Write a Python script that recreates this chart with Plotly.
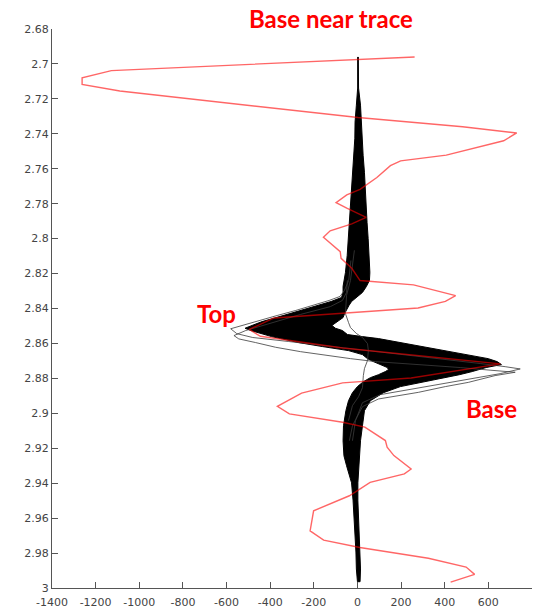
import plotly.graph_objects as go

# ---- red "Base near trace" (time/depth, amplitude) ----
red_depth = [2.6960, 2.7038, 2.7079, 2.7117, 2.7155, 2.7231, 2.7307, 2.7360, 2.7395, 2.7440,
             2.7474, 2.7522, 2.7555, 2.7582, 2.7650, 2.7718, 2.7750, 2.7794, 2.7826, 2.7878,
             2.7916, 2.7955, 2.7992, 2.8027, 2.8075, 2.8113, 2.8170, 2.8240, 2.8265, 2.8326,
             2.8359, 2.8397, 2.8426, 2.8454, 2.8520, 2.8559, 2.8626, 2.8664, 2.8717, 2.8798,
             2.8826, 2.8884, 2.8960, 2.9003, 2.9032, 2.9051, 2.9079, 2.9156, 2.9194, 2.9242,
             2.9319, 2.9347, 2.9395, 2.9472, 2.9558, 2.9673, 2.9726, 2.9768, 2.9830, 2.9880,
             2.9922, 2.9966]
red_amp = [262, -1128, -1262, -1262, -1089, -539, 3, 482, 730, 670,
           563, 407, 198, 151, 89, 12, -49, -98, -49, 40,
           -26, -125, -156, -125, -79, -75, -26, 12, 257, 450,
           403, 278, -68, -382, -496, -445, -68, 246, 655, 246,
           -68, -256, -367, -312, -162, -68, 34, 128, 136, 167,
           246, 215, 58, -37, -201, -217, -155, 11, 325, 498,
           537, 427]

# ---- dense black bundle of traces: envelope (min / max amplitude per depth) ----
env_depth = [2.6960, 2.7138, 2.7236, 2.7333, 2.7425, 2.7523, 2.7620, 2.7712, 2.7809, 2.7907,
             2.7999, 2.8096, 2.8194, 2.8239, 2.8274, 2.8308, 2.8337, 2.8360, 2.8383, 2.8406,
             2.8429, 2.8452, 2.8475, 2.8497, 2.8513, 2.8526, 2.8549, 2.8561, 2.8572, 2.8595,
             2.8618, 2.8641, 2.8664, 2.8687, 2.8704, 2.8721, 2.8738, 2.8750, 2.8761, 2.8779,
             2.8796, 2.8819, 2.8847, 2.8882, 2.8928, 2.8985, 2.9071, 2.9157, 2.9243, 2.9300,
             2.9398, 2.9501, 2.9599, 2.9696, 2.9794, 2.9891, 2.9964]
env_min = [1, 1, -5, -11, -12, -17, -21, -27, -32, -35,
           -40, -47, -55, -62, -66, -66, -73, -121, -181, -245,
           -309, -373, -437, -483, -515, -489, -430, -393, -352, -270,
           -160, -41, 23, 46, 73, 110, 137, 142, 128, 96,
           59, 27, 0, -23, -41, -53, -64, -66, -62, -50,
           -27, -20, -15, -11, -7, -5, 0]
env_max = [4, 5, 14, 17, 21, 26, 32, 37, 41, 44,
           49, 54, 57, 55, 41, 23, -5, -27, -39, -50,
           -59, -66, -91, -117, -101, -69, -46, 23, 96, 197,
           297, 398, 499, 599, 640, 660, 590, 558, 526, 467,
           398, 311, 197, 119, 59, 32, 23, 14, 9, 7,
           2, 2, 3, 7, 11, 14, 12]

# ---- individual outlier traces of the bundle ----
o1_depth = [2.8125, 2.8239, 2.8297, 2.8331, 2.8354, 2.8383, 2.8412, 2.8440, 2.8469, 2.8497,
            2.8516, 2.8544, 2.8566, 2.8589, 2.8612, 2.8635, 2.8664, 2.8693, 2.8715, 2.8733,
            2.8746, 2.8773, 2.8813, 2.8859, 2.8893, 2.8939, 2.9042, 2.9157]
o1_amp = [-30, -40, -60, -80, -130, -205, -285, -368, -452, -535,
          -581, -553, -480, -315, -150, 5, 197, 403, 563, 677,
          746, 654, 471, 242, 105, 23, -9, -23]

o2_depth = [2.8239, 2.8308, 2.8354, 2.8389, 2.8434, 2.8480, 2.8526, 2.8555, 2.8574, 2.8595,
            2.8622, 2.8647, 2.8669, 2.8687, 2.8704, 2.8721, 2.8738, 2.8753, 2.8765, 2.8784,
            2.8823, 2.8847, 2.8880, 2.8918, 2.8962, 2.9071, 2.9157]
o2_amp = [-46, -50, -69, -124, -261, -389, -512, -566, -544, -467,
          -375, -261, -146, -32, 82, 288, 471, 608, 723, 631,
          508, 403, 279, 96, 23, -23, -37]

w_depth = [2.8067, 2.8239, 2.8325, 2.8383, 2.8429, 2.8480, 2.8509, 2.8543, 2.8566, 2.8601,
           2.8641, 2.8698, 2.8744, 2.8784, 2.8853, 2.8905, 2.8956, 2.9042]
w_amp = [-14, -32, -50, -53, -55, -41, -32, -5, 23, 46,
         50, 46, 32, 27, 23, 5, -23, -41]

x_ticks = [-1400, -1200, -1000, -800, -600, -400, -200, 0, 200, 400, 600, 800]
y_ticks = [2.68, 2.70, 2.72, 2.74, 2.76, 2.78, 2.80, 2.82, 2.84, 2.86, 2.88, 2.90,
           2.92, 2.94, 2.96, 2.98, 3.00]

fig = go.Figure()

# dense bundle as filled envelope
fig.add_trace(go.Scatter(
    x=env_min + env_max[::-1],
    y=env_depth + env_depth[::-1],
    mode="lines", fill="toself", fillcolor="black",
    line=dict(color="black", width=1), hoverinfo="skip", showlegend=False))

for dep, amp in [(o1_depth, o1_amp), (o2_depth, o2_amp), (w_depth, w_amp)]:
    fig.add_trace(go.Scatter(x=amp, y=dep, mode="lines",
                             line=dict(color="rgba(60,60,60,0.8)", width=1),
                             hoverinfo="skip", showlegend=False))

fig.add_trace(go.Scatter(x=red_amp, y=red_depth, mode="lines",
                         line=dict(color="rgba(255,0,0,0.6)", width=1.4),
                         hoverinfo="skip", showlegend=False))

label_font = dict(family="Lato, Open Sans, sans-serif", size=24, color="#ff0000")
fig.add_annotation(text="<b>Base near trace</b>", x=-121, y=1.018, xref="x", yref="paper",
                   showarrow=False, font=label_font, xanchor="center", yanchor="middle")
fig.add_annotation(text="<b>Top</b>", x=-646, y=2.8426, xref="x", yref="y",
                   showarrow=False, font=label_font, xanchor="center", yanchor="middle")
fig.add_annotation(text="<b>Base</b>", x=613, y=2.8975, xref="x", yref="y",
                   showarrow=False, font=label_font, xanchor="center", yanchor="middle")

axis_common = dict(showgrid=False, zeroline=False, showline=True, linecolor="#555",
                   linewidth=1, ticks="inside", ticklen=6, tickwidth=1, tickcolor="#555",
                   tickfont=dict(family="DejaVu Sans", size=11, color="#444"), mirror=False,
                   automargin=False)

fig.update_layout(
    width=537, height=614,
    margin=dict(l=52, r=5, t=29, b=26),
    paper_bgcolor="white", plot_bgcolor="white",
    xaxis=dict(range=[-1400, 800], tickvals=x_ticks,
               ticktext=[str(v) for v in x_ticks], ticklabelstandoff=4, **axis_common),
    yaxis=dict(range=[3.0, 2.68], tickvals=y_ticks,
               ticktext=[("%.2f" % v).rstrip("0").rstrip(".") for v in y_ticks], **axis_common),
)

fig.write_html("out.html", config={"displayModeBar": False},
               post_script="document.body.style.margin='0';document.body.style.overflow='hidden';")
